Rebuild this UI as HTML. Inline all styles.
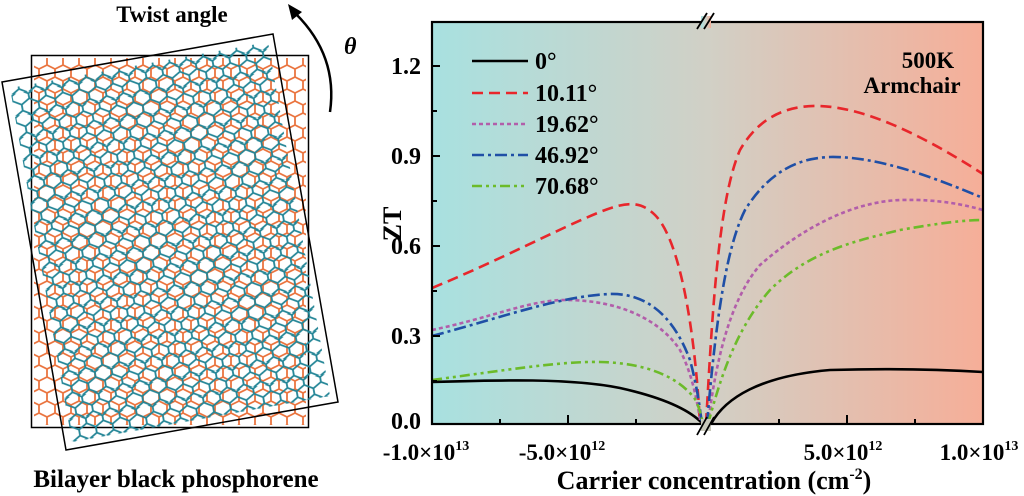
<!DOCTYPE html>
<html><head><meta charset="utf-8"><style>
html,body{margin:0;padding:0;background:#fff;overflow:hidden;width:1024px;height:496px}
svg{display:block}
text{font-family:"Liberation Serif",serif;font-weight:bold;fill:#000}
</style></head><body>
<svg width="1024" height="496" viewBox="0 0 1024 496" xmlns="http://www.w3.org/2000/svg">
<defs>
<linearGradient id="bg" x1="0" x2="1" y1="0" y2="0">
<stop offset="0" stop-color="#a8e1e0"/>
<stop offset="0.5" stop-color="#d1d0c6"/>
<stop offset="1" stop-color="#f6ae98"/>
</linearGradient>
<pattern id="po" patternUnits="userSpaceOnUse" width="16" height="24" x="31" y="55">
<path d="M0,2 L0,10 L8,14 L8,22 M8,14 L16,10 L16,2 M8,22 L0,26 M8,22 L16,26 M0,2 L8,-2 L16,2" fill="none" stroke="#ea7540" stroke-width="1.8"/>
</pattern>
<pattern id="pb" patternUnits="userSpaceOnUse" width="17" height="22" patternTransform="rotate(-10 170 240) translate(5 3)">
<path d="M0,2 L0,7 L8.5,12 L8.5,18 M8.5,12 L17,7 L17,2 M8.5,18 L0,23 M8.5,18 L17,23 M0,2 L8.5,-3 L17,2" fill="none" stroke="#238596" stroke-width="1.8"/>
</pattern>
<clipPath id="co"><rect x="34" y="58" width="272" height="367"/></clipPath>
<clipPath id="cb"><polygon points="10,88 268,42 330,396 72,442"/></clipPath>
<clipPath id="plot"><rect x="432" y="22" width="551" height="402"/></clipPath>
</defs>

<text x="172" y="22" font-size="23" text-anchor="middle">Twist angle</text>
<path d="M330,112 C336,70 320,38 296,14" fill="none" stroke="#000" stroke-width="2.5"/>
<polygon points="288,4 302,12 292,20" fill="#000"/>
<text x="344" y="54" font-size="24" font-style="italic">θ</text>
<polygon points="34,58 306,58 306,425 34,425" fill="url(#po)"/>
<rect x="31.5" y="55.5" width="277" height="372" fill="none" stroke="#000" stroke-width="1.5"/>
<polygon points="10,88 268,42 330,396 72,442" fill="url(#pb)"/>
<polygon points="2,82 273,34 338,402 66,450" fill="none" stroke="#000" stroke-width="1.5"/>
<text x="176" y="487" font-size="25" text-anchor="middle">Bilayer black phosphorene</text>

<rect x="432" y="22" width="551" height="402" fill="url(#bg)"/>
<g clip-path="url(#plot)" fill="none" stroke-width="2.6">
<path d="M432,382 C500,380 570,378 620,388 C665,398 690,410 703,424 M711,424 C725,398 760,376 830,370 C900,368 950,370 983,372" stroke="#000"/>
<path d="M432,288 C500,260 560,228 600,212 C625,202 640,200 655,215 C680,240 695,330 700,424 M706,424 C712,320 718,200 740,150 C760,115 790,105 820,106 C870,108 930,140 983,174" stroke="#e8262b" stroke-dasharray="11 6"/>
<path d="M432,330 C490,318 530,300 565,300 C620,300 660,320 680,350 C695,380 698,410 701,424 M708,424 C716,360 730,300 760,265 C800,230 850,202 900,200 C940,199 965,205 983,210" stroke="#b25eaa" stroke-dasharray="4 3"/>
<path d="M432,336 C500,318 560,296 610,294 C650,293 675,320 690,360 C698,390 700,410 702,424 M707,424 C715,330 725,250 745,210 C770,170 800,158 830,157 C880,156 940,180 983,198" stroke="#1f4fa6" stroke-dasharray="12 4 3 4"/>
<path d="M432,380 C500,371 560,361 600,362 C650,363 680,379 695,399 C700,409 702,419 703,424 M708,424 C720,380 735,330 770,290 C810,250 860,240 900,230 C940,223 965,220 983,220" stroke="#6cbb2a" stroke-dasharray="10 4 3 4 3 4"/>
</g>
<rect x="432" y="22" width="551" height="402" fill="none" stroke="#000" stroke-width="2.2"/>
<rect x="701" y="16" width="10" height="12" fill="url(#bg)"/>
<path d="M697,29 L707,13 M704,29 L714,13" stroke="#000" stroke-width="1.8"/>
<rect x="701" y="419" width="10" height="12" fill="#c8c8bb"/>
<path d="M697,435 L707,417 M704,435 L714,417" stroke="#000" stroke-width="1.8"/>
<g stroke="#000" stroke-width="2">
<path d="M432,66 h8 M432,156 h8 M432,246 h8 M432,336 h8 M432,111 h5 M432,201 h5 M432,291 h5 M432,381 h5"/>
<path d="M568,424 v-9 M500,424 v-5 M636,424 v-5 M847,424 v-9 M779,424 v-5 M915,424 v-5"/>
</g>
<g font-size="24" text-anchor="end">
<text x="421" y="74">1.2</text>
<text x="421" y="164">0.9</text>
<text x="421" y="254">0.6</text>
<text x="421" y="344">0.3</text>
<text x="421" y="429">0.0</text>
</g>
<g font-size="23" text-anchor="middle">
<text x="426" y="460">-1.0×10<tspan font-size="14" dy="-10">13</tspan></text>
<text x="562" y="460">-5.0×10<tspan font-size="14" dy="-10">12</tspan></text>
<text x="843" y="460">5.0×10<tspan font-size="14" dy="-10">12</tspan></text>
<text x="979" y="460">1.0×10<tspan font-size="14" dy="-10">13</tspan></text>
</g>
<text x="714" y="489" font-size="26" text-anchor="middle">Carrier concentration (cm<tspan font-size="16" dy="-10">-2</tspan><tspan dy="10">)</tspan></text>
<text transform="translate(401 224) rotate(-90)" font-size="26" text-anchor="middle">ZT</text>
<g stroke-width="2.6" fill="none">
<path d="M472,61 h56" stroke="#000"/>
<path d="M472,93 h56" stroke="#e8262b" stroke-dasharray="11 6"/>
<path d="M472,124 h56" stroke="#b25eaa" stroke-dasharray="4 3"/>
<path d="M472,155 h56" stroke="#1f4fa6" stroke-dasharray="12 4 3 4"/>
<path d="M472,186 h56" stroke="#6cbb2a" stroke-dasharray="10 4 3 4 3 4"/>
</g>
<g font-size="24">
<text x="535" y="69">0°</text>
<text x="535" y="101">10.11°</text>
<text x="535" y="132">19.62°</text>
<text x="535" y="163">46.92°</text>
<text x="535" y="194">70.68°</text>
</g>
<text x="928" y="68" font-size="23" text-anchor="middle">500K</text>
<text x="912" y="93" font-size="23" text-anchor="middle">Armchair</text>
</svg>
</body></html>
